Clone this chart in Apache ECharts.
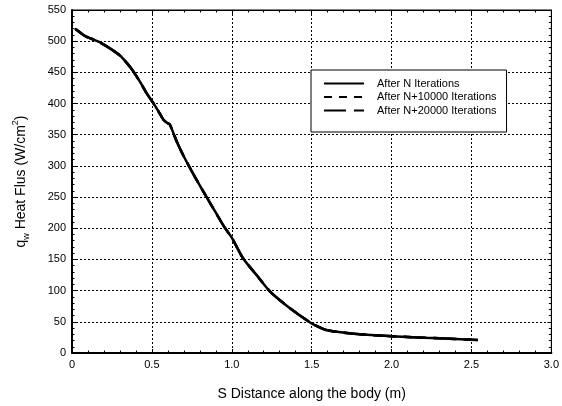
<!DOCTYPE html>
<html>
<head>
<meta charset="utf-8">
<script src="https://cdn.jsdelivr.net/npm/echarts@6/dist/echarts.min.js"></script>
<style>
  html, body { margin: 0; padding: 0; background: #fff; }
  #chart { width: 562px; height: 406px; }
</style>
</head>
<body>
<div id="chart"></div>
<script>
// Surface distance along the body (m)
var sDistance = [0.02, 0.08, 0.12, 0.175, 0.24, 0.30, 0.34, 0.38, 0.425, 0.467, 0.508, 0.54, 0.571, 0.595, 0.613, 0.654, 0.70, 0.77, 0.84, 0.90, 0.956, 1.00, 1.07, 1.155, 1.24, 1.36, 1.49, 1.55, 1.59, 1.67, 1.80, 2.00, 2.20, 2.40, 2.54];

// Wall heat flux (W/cm^2) after each iteration count
var heatFluxN      = [520, 508.5, 504, 498, 488, 477, 466, 453, 435, 416.5, 401, 388, 374.5, 369, 366, 340, 315, 282, 251, 225, 201, 185, 152, 125, 98.5, 72.5, 49, 41, 37, 33.5, 30, 27, 24.5, 22.5, 21];
var heatFluxN10000 = [520, 508.5, 504, 498, 488, 477, 466, 453, 435, 416.5, 401, 388, 374.5, 369, 366, 340, 315, 282, 251, 225, 201, 185, 152, 125, 98.5, 72.5, 49, 41, 37, 33.5, 30, 27, 24.5, 22.5, 21];
var heatFluxN20000 = [520, 508.5, 504, 498, 488, 477, 466, 453, 435, 416.5, 401, 388, 374.5, 369, 366, 340, 315, 282, 251, 225, 201, 185, 152, 125, 98.5, 72.5, 49, 41, 37, 33.5, 30, 27, 24.5, 22.5, 21];

var seriesNames = ['After N Iterations', 'After N+10000 Iterations', 'After N+20000 Iterations'];

function pairs(xs, ys) {
  return xs.map(function (x, i) { return [x, ys[i]]; });
}

var font = 'Liberation Sans, Arial, sans-serif';
var chart = echarts.init(document.getElementById('chart'), null, { renderer: 'canvas' });

function curve(name, values, dash, z) {
  return {
    name: name, type: 'line', data: pairs(sDistance, values),
    symbol: 'none', smooth: 0.2, z: z,
    itemStyle: { color: '#000' },
    lineStyle: { color: '#000', width: 2.5, type: dash }
  };
}

// Inward major and minor ticks shared by all four sides of the frame
var tickStyle = { show: true, inside: true, length: 4, lineStyle: { color: '#000' } };
var minorStyle = { show: true, splitNumber: 5, length: 2.5, lineStyle: { color: '#000' } };
var gridLines = { show: true, lineStyle: { color: '#000', type: [2, 2], width: 1 } };

chart.setOption({
  animation: false,
  backgroundColor: '#ffffff',
  textStyle: { fontFamily: font, color: '#000' },
  grid: {
    left: 72, right: 10, top: 10, bottom: 47,
    show: true, borderColor: '#000', borderWidth: 1, backgroundColor: 'transparent'
  },
  legend: {
    data: seriesNames,
    orient: 'vertical',
    left: 311, top: 70,
    itemWidth: 40, itemHeight: 10, itemGap: 2.5,
    padding: [8, 10, 16, 12],
    borderColor: '#000', borderWidth: 1, borderRadius: 0,
    backgroundColor: '#fff',
    textStyle: { fontFamily: font, fontSize: 11, color: '#000', padding: [0, 0, 0, 8] },
    itemStyle: { opacity: 0 },
    lineStyle: { width: 2 },
    selectedMode: false
  },
  xAxis: [{
    type: 'value', min: 0, max: 3, interval: 0.5, position: 'bottom',
    name: 'S Distance along the body (m)',
    nameLocation: 'middle', nameGap: 34,
    nameTextStyle: { fontFamily: font, fontSize: 14, color: '#000' },
    axisLine: { show: true, onZero: false, lineStyle: { color: '#000', width: 2 } },
    axisTick: tickStyle,
    minorTick: minorStyle,
    axisLabel: {
      fontFamily: font, fontSize: 11, color: '#000', margin: 6,
      formatter: function (v) { return v === 0 ? '0' : v.toFixed(1); }
    },
    splitLine: gridLines
  }, {
    type: 'value', min: 0, max: 3, interval: 0.5, position: 'top',
    axisLine: { show: true, onZero: false, lineStyle: { color: '#000', width: 1 } },
    axisTick: tickStyle,
    minorTick: minorStyle,
    axisLabel: { show: false },
    splitLine: { show: false }
  }],
  yAxis: [{
    type: 'value', min: 0, max: 550, interval: 50, position: 'left',
    name: '{t|q}{sub|w}{t| Heat Flus (W/cm}{sup|2}{t|)}',
    nameLocation: 'middle', nameGap: 40,
    nameTextStyle: {
      fontFamily: font, fontSize: 14, color: '#000',
      rich: {
        t: { fontFamily: font, fontSize: 14, color: '#000', lineHeight: 22, verticalAlign: 'middle' },
        sub: { fontFamily: font, fontSize: 9, color: '#000', lineHeight: 22, verticalAlign: 'bottom', padding: [0, 0, 1, 0] },
        sup: { fontFamily: font, fontSize: 9, color: '#000', lineHeight: 22, verticalAlign: 'top', padding: [1, 0, 0, 0] }
      }
    },
    axisLine: { show: true, onZero: false, lineStyle: { color: '#000', width: 2 } },
    axisTick: tickStyle,
    minorTick: minorStyle,
    axisLabel: { fontFamily: font, fontSize: 11, color: '#000', margin: 6 },
    splitLine: gridLines
  }, {
    type: 'value', min: 0, max: 550, interval: 50, position: 'right',
    axisLine: { show: true, onZero: false, lineStyle: { color: '#000', width: 1 } },
    axisTick: tickStyle,
    minorTick: minorStyle,
    axisLabel: { show: false },
    splitLine: { show: false }
  }],
  series: [
    curve(seriesNames[2], heatFluxN20000, [22, 8], 2),
    curve(seriesNames[1], heatFluxN10000, [8, 7], 3),
    curve(seriesNames[0], heatFluxN, 'solid', 4)
  ]
});
</script>
</body>
</html>
